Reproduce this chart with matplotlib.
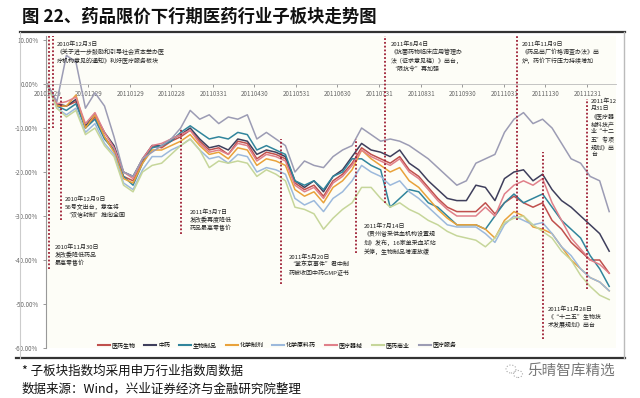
import matplotlib
matplotlib.use("Agg")
import matplotlib.pyplot as plt
import matplotlib.dates as mdates
from matplotlib.lines import Line2D
from matplotlib.patches import Ellipse
import pandas as pd

plt.rcParams['font.family'] = ['Noto Sans CJK SC', 'DejaVu Sans']

# weekly dates (申万行业指数周数据)
dates = pd.date_range("2010-11-29", periods=60, freq="7D")

names = ["医药生物", "中药", "生物制品", "化学制剂", "化学原料药", "医疗器械", "医药商业", "医疗服务"]
colors = ["#c0504d", "#3f3f5c", "#31859c", "#e9a23b", "#9cb9dc", "#e0808a", "#c6d69a", "#9c9cb4"]

# cumulative change, %
yiyao_shengwu = [0, -5, -5, -4, -10, -7.5, -12, -15, -21, -22,
                 -17.5, -14, -14.5, -13, -12, -10.5, -13, -15, -14.5, -16,
                 -13, -13.5, -17, -15.5, -16, -17, -22.5, -24, -23, -25.5,
                 -22, -20.5, -18, -14.5, -16, -17, -18, -16.5, -19.5, -21,
                 -23.5, -26, -28, -29, -29, -29, -27, -29.5, -27, -25.5,
                 -27, -28, -27, -31, -33, -36, -38, -40, -40, -43]
zhongyao = [0, -4.5, -5, -3.5, -9.5, -7, -11, -14, -20, -21,
            -17, -14, -14, -12.5, -11.5, -10, -12.5, -14.5, -14, -15,
            -12.5, -13, -16, -15, -15.5, -16.5, -22, -23.5, -22, -24.5,
            -21, -19.5, -16.5, -13.5, -15, -15.5, -16.5, -15, -18, -19.5,
            -22, -24, -26, -26.5, -26.5, -23, -23.5, -26.5, -21.5, -20,
            -19.5, -22, -20.5, -24, -26.5, -28, -30, -32, -34, -38]
shengwu_zhipin = [0, -5, -6, -4.5, -10, -8, -12.5, -15, -21, -23,
                  -18, -14.5, -14, -13, -11, -9.5, -11, -12.5, -12, -12.5,
                  -11, -11.5, -15, -14, -15, -16, -22, -23, -22, -24,
                  -21, -20, -17, -17, -18.5, -19.5, -28, -26, -24, -24.5,
                  -27, -28, -30, -32, -32, -32, -33, -30, -27, -25,
                  -27, -26, -25, -28, -31, -33, -35, -39, -42, -46]
huaxue_zhiji = [0, -5, -5, -2.5, -10, -7, -12, -15.5, -21.5, -22.5,
                -18, -15, -15, -14, -13, -11.5, -14, -16, -15.5, -17,
                -14.5, -15, -18.5, -17, -17.5, -18.5, -24, -25.5, -24.5, -27,
                -23.5, -22, -19.5, -15, -17, -18.5, -20, -19, -22, -23.5,
                -26, -28.5, -30.5, -32, -32, -32, -33, -35, -31, -29,
                -30, -32.5, -33, -34, -37, -40, -42, -44, -45, -47]
huaxue_yuanliao = [0, -5.5, -7, -5.5, -11, -9, -13.5, -16, -22.5, -24,
                   -19.5, -16.5, -16.5, -15, -14, -12.5, -15, -17, -16.5, -18,
                   -16, -16.5, -20, -19, -19.5, -20.5, -26, -27.5, -26.5, -29,
                   -26, -24.5, -22, -18.5, -20, -21, -23, -22, -24.5, -26,
                   -28, -30, -32, -32.5, -32.5, -32.5, -34, -36, -32, -30,
                   -31, -32, -31.5, -34, -37, -39, -42, -44, -45, -47]
yiliao_qixie = [0, -4.5, -4, -3, -9, -6.5, -11, -14.5, -20, -21.5,
                -17, -14, -13.5, -12.5, -11.5, -10.5, -13.5, -15.5, -15, -16,
                -13.5, -14, -17.5, -16, -16.5, -17.5, -23, -24.5, -23.5, -26,
                -22.5, -21, -18.5, -15, -16.5, -17.5, -18.5, -17, -20, -21.5,
                -24, -26.5, -28.5, -30, -30, -30, -28, -30, -25, -23,
                -22, -23, -21.5, -27, -31, -35, -37.5, -40, -41, -43]
yiyao_shangye = [0, -5.5, -7.5, -6, -11.5, -10, -14, -16.5, -23, -24.5,
                 -20, -18.5, -18, -16, -14, -12.5, -15, -19, -17.5, -18,
                 -17.5, -18, -21, -19.5, -20.5, -22, -28, -28.5, -29.5, -33,
                 -30.5, -28.5, -27, -23.5, -23.5, -26, -28, -27, -28.5, -29.5,
                 -31, -32, -33.5, -34.5, -35, -35.5, -37, -35, -31.5, -30.5,
                 -30, -32, -33.5, -35, -38, -40, -43.5, -46, -48, -49]
yiliao_fuwu = [0, -4, 6.5, 5, -5.5, -2, -5, -12, -20, -21,
               -17, -15.5, -14, -12.5, -10, -6, -8, -7, -9, -7.5,
               -8, -7, -12.5, -11, -12.5, -14, -20, -17.5, -18.5, -19,
               -16.5, -15, -14, -10, -11.5, -13, -12.5, -13, -14, -15.5,
               -17, -19, -21, -23, -22, -18, -17, -16, -11, -8,
               -6.5, -9, -8, -10, -13.5, -17, -18, -21, -22, -29]

series = [yiyao_shengwu, zhongyao, shengwu_zhipin, huaxue_zhiji,
          huaxue_yuanliao, yiliao_qixie, yiyao_shangye, yiliao_fuwu]

# policy events
event_dates = ["2010-11-30", "2010-12-03", "2010-12-09", "2011-03-07", "2011-05-20",
               "2011-07-14", "2011-08-04", "2011-11-09", "2011-11-28", "2011-12-31"]
event_texts = [
    "2010年11月30日\n发改委降低药品\n最高零售价",
    "2010年12月3日\n《关于进一步鼓励和引导社会资本举办医\n疗机构意见的通知》利好医疗服务板块",
    "2010年12月9日\n56号文出台，意在将\n“双信封制”推向全国",
    "2011年3月7日\n发改委再度降低\n药品最高零售价",
    "2011年5月20日\n“掌东京事件”君中制\n药被收回中药GMP证书",
    "2011年7月14日\n《贵州省采供血机构设置规\n划》发布，16家单采血浆站\n关停，生物制品增速放缓",
    "2011年8月4日\n《抗菌药物临床应用管理办\n法（征求意见稿）》出台，\n“限抗令”再加强",
    "2011年11月9日\n《药品出厂价格调查办法》出\n炉，药价下行压力持续增加",
    "2011年11月28日\n《“十二五”生物技\n术发展规划》出台",
    "2011年12\n月31日\n《医疗器\n械科技产\n业“十二\n五”专项\n规划》出\n台",
]
# (ymin, ymax) of each dotted line and text anchor in pixels
event_span = [(-42, 11), (-10, 11), (-31, -3), (-34, -10), (-45.5, -12.5),
              (-38.5, -12.5), (-27, 11), (-31, 11), (-58, -15.5), (-46.5, -3.5)]
text_pos = [(55, 244), (57, 41), (65, 196), (190, 209), (289, 254),
            (364, 223), (391, 41), (522, 41), (548, 306), (591, 99)]

W, H = 640, 398
fig = plt.figure(figsize=(6.4, 3.98), dpi=100)
fig.patch.set_facecolor("white")

ax = fig.add_axes([46 / W, 1 - 348 / H, 570 / W, 312.4 / H])
ax.set_facecolor("#fdfdf7")

for vals, name, c in zip(series, names, colors):
    ax.plot(dates, vals, color=c, lw=1.1, label=name)

for d, (y0, y1) in zip(event_dates, event_span):
    ax.vlines(pd.Timestamp(d), y0, y1, colors="#9e1f35", linestyles=(0, (1, 1.1)), lw=1.3, zorder=5)

ax.set_xlim(pd.Timestamp("2010-11-28"), pd.Timestamp("2012-01-21"))
ax.set_ylim(-60, 11)

ticks = pd.to_datetime(["2010-11-29", "2010-12-29", "2011-01-29", "2011-02-28", "2011-03-31",
                        "2011-04-30", "2011-05-31", "2011-06-30", "2011-07-31", "2011-08-31",
                        "2011-09-30", "2011-10-31", "2011-11-30", "2011-12-31"])
ax.set_xticks(ticks)
ax.xaxis.set_major_formatter(mdates.DateFormatter("%Y%m%d"))
ax.set_yticks(range(-60, 11, 10))
ax.set_yticklabels([f"{v:.2f}%" for v in range(-60, 11, 10)])
ax.tick_params(axis="both", labelsize=4.5, colors="#888888", length=2, width=0.6, labelcolor="#666666")
ax.tick_params(axis="x", pad=2)

for s in ["top", "right"]:
    ax.spines[s].set_visible(False)
ax.spines["bottom"].set_position(("data", 0))
ax.spines["bottom"].set_color("#bbbbbb")
ax.spines["bottom"].set_linewidth(0.6)
ax.spines["left"].set_color("#999999")
ax.spines["left"].set_linewidth(0.8)

for txt, (px, py) in zip(event_texts, text_pos):
    fig.text(px / W, 1 - py / H, txt, fontsize=4.3, va="top", ha="left",
             color="#222222", linespacing=1.45, zorder=6)

handles = [Line2D([0], [0], color=c, lw=1.5) for c in colors]
fig.legend(handles, names, loc="center", bbox_to_anchor=(277 / W, 1 - 345 / H), ncol=8,
           frameon=False, fontsize=4.3, handlelength=2.0, handletextpad=0.3, columnspacing=1.5)

# frame around the chart
fig.add_artist(Line2D([20 / W, 625 / W], [1 - 32 / H, 1 - 32 / H], color="#333333", lw=1.6))
fig.add_artist(Line2D([16 / W, 625 / W], [1 - 358 / H, 1 - 358 / H], color="#333333", lw=1.6))
fig.add_artist(Line2D([20 / W, 20 / W], [1 - 32 / H, 1 - 358 / H], color="#cccccc", lw=0.8))
fig.add_artist(Line2D([624 / W, 624 / W], [1 - 32 / H, 1 - 358 / H], color="#bbbbbb", lw=1.0))

fig.text(22 / W, 1 - 17 / H, "图 22、药品限价下行期医药行业子板块走势图", fontsize=12.5,
         fontweight="bold", va="center", ha="left", color="#111111")
fig.text(22 / W, 1 - 371 / H, "* 子板块指数均采用申万行业指数周数据", fontsize=9,
         va="center", ha="left", color="#111111")
fig.text(22 / W, 1 - 389 / H, "数据来源：Wind，兴业证券经济与金融研究院整理", fontsize=9,
         va="center", ha="left", color="#111111")

# watermark
fig.add_artist(Ellipse((511 / W, 1 - 369 / H), 10 / W, 8 / H, fill=False, ec="#aaaaaa", lw=0.8, ls=":"))
fig.add_artist(Ellipse((518 / W, 1 - 374 / H), 9 / W, 7 / H, fill=False, ec="#aaaaaa", lw=0.8, ls=":"))
fig.text(527 / W, 1 - 372 / H, "乐晴智库精选", fontsize=10.5, va="center", ha="left", color="#777777")

fig.savefig("out.png", dpi=100)
